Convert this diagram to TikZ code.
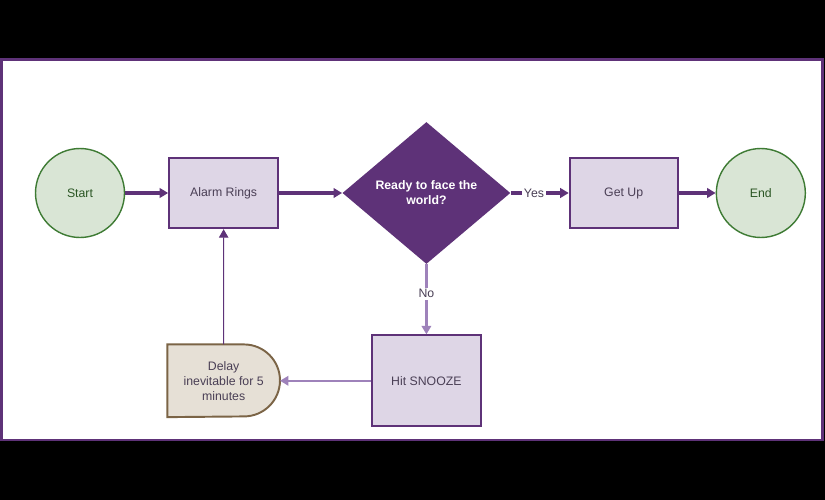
\documentclass[tikz,border=0pt]{standalone}
\usepackage{fontspec}
\setmainfont{Liberation Sans}
\usepackage{tikz}
\usetikzlibrary{arrows.meta,positioning,shapes.geometric,backgrounds}

\pgfdeclarelayer{backdrop}
\pgfsetlayers{backdrop,background,main}

\definecolor{purp}{HTML}{5E3278}
\definecolor{lavender}{HTML}{DED6E6}
\definecolor{lightpurp}{HTML}{9E82BA}
\definecolor{greenfill}{HTML}{D9E5D5}
\definecolor{greenline}{HTML}{3E7B34}
\definecolor{beige}{HTML}{E6E0D6}
\definecolor{brownline}{HTML}{7B6446}
\definecolor{textgrey}{HTML}{4A3F55}

\begin{document}
\begin{tikzpicture}[
      x = 0.02cm, y = -0.02cm, % pixel grid
      > = {Triangle[length=0.17cm,width=0.19cm]}, % arrow head style
      font = \fontsize{7}{8.5}\selectfont,
      terminal/.style = {circle, draw = greenline, line width = 0.8pt,
        fill = greenfill, text = greenline!70!black, minimum size = 1.78cm, inner sep = 0pt},
      proc/.style = {rectangle, draw = purp, line width = 1.1pt, fill = lavender,
        text = textgrey, minimum width = 2.18cm, minimum height = 1.41cm},
      decision/.style = {diamond, fill = purp, text = white, font = \fontsize{7}{8.5}\selectfont\bfseries,
        align = center, minimum width = 3.36cm, minimum height = 2.84cm, inner sep = 0pt},
      flow/.style = {->, draw = purp, line width = 2pt},
      softflow/.style = {->, draw = lightpurp, line width = 1.4pt}
      ]

      % backdrop and frame
      \begin{pgfonlayer}{backdrop}
        \fill[black] (0,0) rectangle (825,500);
        \draw[purp, line width = 1.7pt, fill = white] (1.5,59.5) rectangle (822,440);
      \end{pgfonlayer}

      \node[terminal] (start) at (80,193) {Start};
      \node[proc] (alarm) [right=0.86cm of start] {Alarm Rings};
      \node[decision] (ready) [right=1.26cm of alarm] {Ready to face the\\world?};
      \node[proc] (getup) [right=1.16cm of ready, minimum width = 2.16cm] {Get Up};
      \node[terminal] (end) [right=0.74cm of getup] {End};
      \node[proc] (snooze) [below=1.4cm of ready, minimum height = 1.82cm] {Hit SNOOZE};
      \node[text = textgrey, align = center, minimum width = 2.24cm, minimum height = 1.44cm,
        inner sep = 0pt] (delay) [left=1.82cm of snooze] {Delay\\inevitable for 5\\minutes};

      \begin{scope}[on background layer]
        \draw[brownline, line width = 1.1pt, fill = beige]
          (delay.south west) -- (delay.north west) -- ([xshift=-0.72cm]delay.north east)
          arc[start angle = 90, end angle = -90, radius = 0.72cm] -- cycle;
      \end{scope}

      \draw[flow] (start) -- (alarm);
      \draw[flow] (alarm) -- (ready);
      \draw[flow] (ready) -- node[pos = 0.4, fill = white, text = textgrey, inner sep = 1pt] {Yes} (getup);
      \draw[flow] (getup) -- (end);
      \draw[softflow] (ready) -- node[pos = 0.42, fill = white, text = textgrey, inner sep = 1pt] {No} (snooze);
      \draw[softflow] (snooze) -- (delay.east);
      \draw[->, purp, line width = 0.6pt] (delay.north) -- (alarm.south);

    \end{tikzpicture}
\end{document}
